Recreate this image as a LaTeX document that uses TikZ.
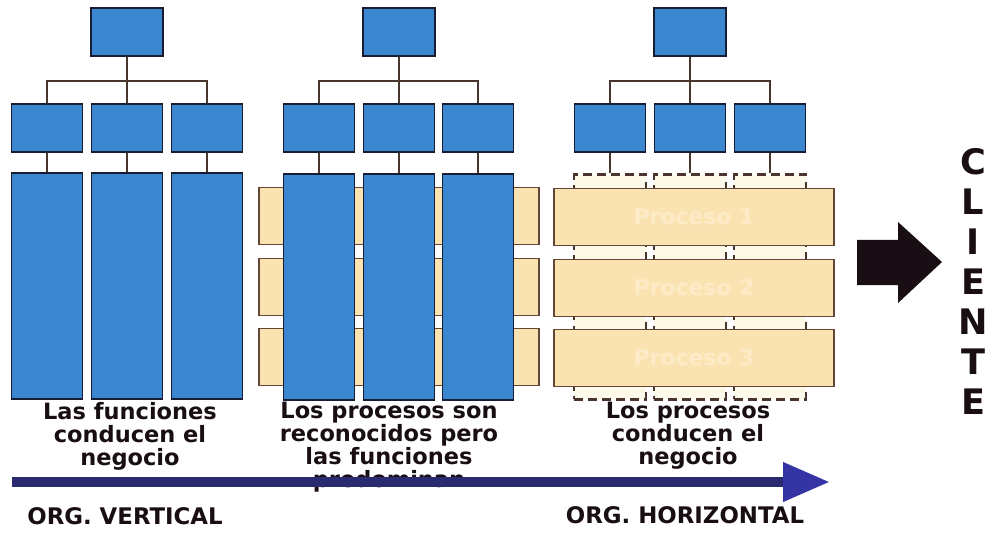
\documentclass[tikz,border=0pt]{standalone}
\usepackage{fontspec}
\setmainfont{DejaVu Sans}
\usepackage{xcolor}
\usepackage{tikz}
\usetikzlibrary{arrows.meta}

\definecolor{azul}{RGB}{58,134,207}
\definecolor{bordeazul}{RGB}{24,28,50}
\definecolor{crema}{RGB}{251,227,177}
\definecolor{bordecrema}{RGB}{100,70,55}
\definecolor{linea}{RGB}{74,52,46}
\definecolor{marino}{RGB}{42,42,112}
\definecolor{punta}{RGB}{52,52,165}
\definecolor{tenue}{RGB}{253,235,200}
\definecolor{palido}{RGB}{253,249,233}
\definecolor{negro}{RGB}{24,14,20}

\tikzset{
jefe/.style={draw=bordeazul,fill=azul,line width=1.1pt,minimum width=1.44cm,minimum height=0.96cm,inner sep=0pt},
area/.style={jefe,minimum width=1.42cm},
funcion/.style={area,minimum height=4.52cm},
proceso/.style={draw=bordecrema,fill=crema,line width=1pt,minimum width=5.6cm,minimum height=1.14cm,inner sep=0pt,text=tenue,font=\fontsize{12.5}{13}\selectfont\bfseries},
hueco/.style={draw=linea,dash pattern=on 5pt off 3pt,fill=palido,line width=1.2pt,minimum width=1.44cm,minimum height=4.5cm,inner sep=0pt},
rama/.style={draw=linea,line width=1pt},
leyenda/.style={align=center,anchor=north,inner sep=0pt,text=negro,font=\fontsize{12.8}{13}\selectfont\bfseries}
}

\begin{document}
\begin{tikzpicture}[x=0.02cm,y=-0.02cm]
\useasboundingbox (0,0) rectangle (989,533);
% organizacion vertical
\node[jefe](v0) at (127,32){};
\node[area](v1) at (47,128){};
\node[area](v2) at (127,128){};
\node[area](v3) at (207,128){};
\node[funcion](fv1) at (47,286){};
\node[funcion](fv2) at (127,286){};
\node[funcion](fv3) at (207,286){};
\draw[rama](v0.south)--++(0,24)-|(v1.north);
\draw[rama](v0.south)--++(0,24)-|(v3.north);
\draw[rama](v0.south)--(v2.north);
\draw[rama](v1.south)--(fv1.north);
\draw[rama](v2.south)--(fv2.north);
\draw[rama](v3.south)--(fv3.north);
% organizacion mixta
\node[proceso](pm1) at (399,216){};
\node[proceso](pm2) at (399,287){};
\node[proceso](pm3) at (399,357){};
\node[jefe](m0) at (399,32){};
\node[area](m1) at (319,128){};
\node[area](m2) at (399,128){};
\node[area](m3) at (478,128){};
\node[funcion](fm1) at (319,287){};
\node[funcion](fm2) at (399,287){};
\node[funcion](fm3) at (478,287){};
\draw[rama](m0.south)--++(0,24)-|(m1.north);
\draw[rama](m0.south)--++(0,24)-|(m3.north);
\draw[rama](m0.south)--(m2.north);
\draw[rama](m1.south)--(fm1.north);
\draw[rama](m2.south)--(fm2.north);
\draw[rama](m3.south)--(fm3.north);
% organizacion horizontal
\node[jefe](h0) at (690,32){};
\node[area](h1) at (610,128){};
\node[area](h2) at (690,128){};
\node[area](h3) at (770,128){};
\node[hueco](fh1) at (610,287){};
\node[hueco](fh2) at (690,287){};
\node[hueco](fh3) at (770,287){};
\node[proceso](ph1) at (694,217){Proceso 1};
\node[proceso](ph2) at (694,288){Proceso 2};
\node[proceso](ph3) at (694,358){Proceso 3};
\draw[rama](h0.south)--++(0,24)-|(h1.north);
\draw[rama](h0.south)--++(0,24)-|(h3.north);
\draw[rama](h0.south)--(h2.north);
\draw[rama](h1.south)--(fh1.north);
\draw[rama](h2.south)--(fh2.north);
\draw[rama](h3.south)--(fh3.north);
% textos
\node[leyenda](tv) at (130,402){Las funciones\\conducen el\\negocio};
\node[leyenda](tm) at (389,402){Los procesos son\\reconocidos pero\\las funciones\\predominan};
\node[leyenda](th) at (688,402){Los procesos\\conducen el\\negocio};
\node[text=negro,font=\fontsize{13}{14}\selectfont\bfseries](ov) at (125,516){ORG. VERTICAL};
\node[text=negro,font=\fontsize{13}{14}\selectfont\bfseries](oh) at (685,515){ORG. HORIZONTAL};
\coordinate(ini) at (12,482);
\coordinate(fin) at (830,482);
\draw[marino,line width=0.2cm,-{Triangle[length=0.94cm,width=0.74cm,color=punta]}](ini)--(fin);
% cliente
\fill[negro](857,240)--(898,240)--(898,222)--(942,262)--(898,303)--(898,285)--(857,285)--cycle;
\node[align=center,anchor=north,inner sep=0pt,text=negro,font=\fontsize{20}{22.76}\selectfont\bfseries](cliente) at (973,148){C\\L\\I\\E\\N\\T\\E};
\end{tikzpicture}
\end{document}
